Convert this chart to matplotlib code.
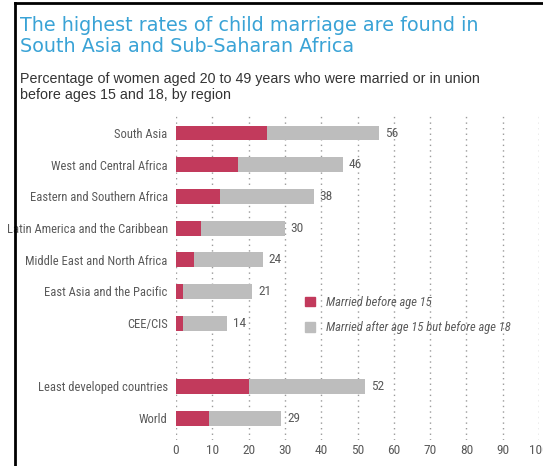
import matplotlib.pyplot as plt
from matplotlib.lines import Line2D
from matplotlib import font_manager

regions = ["South Asia", "West and Central Africa", "Eastern and Southern Africa",
           "Latin America and the Caribbean", "Middle East and North Africa",
           "East Asia and the Pacific", "CEE/CIS", "", "Least developed countries", "World"]
before_15 = [25, 17, 12, 7, 5, 2, 2, None, 20, 9]
before_18 = [56, 46, 38, 30, 24, 21, 14, None, 52, 29]
x_ticks = [0, 10, 20, 30, 40, 50, 60, 70, 80, 90, 100]

RED = "#c23a5c"
GREY = "#bdbdbd"
TEXT = "#5a5a5a"

# pick a condensed face if one is around, otherwise a small Liberation Sans
names = {f.name for f in font_manager.fontManager.ttflist}
narrow, lab_size = "Liberation Sans", 7.6
for cand in ["Liberation Sans Narrow", "Roboto Condensed", "Open Sans Condensed"]:
    if cand in names:
        narrow, lab_size = cand, 9
        break

fig = plt.figure(figsize=(5.43, 4.66), dpi=100)
ax = fig.add_axes([176 / 543, 26 / 466, 363 / 543, 325 / 466])

for i, (a, b) in enumerate(zip(before_15, before_18)):
    if a is None:
        continue
    ax.barh(i, a, height=0.47, color=RED, zorder=3)
    ax.barh(i, b - a, left=a, height=0.47, color=GREY, zorder=3)
    ax.text(b + 1.6, i, str(b), va="center", ha="left", fontsize=lab_size + 0.6,
            family=narrow, color=TEXT)

ax.set_xlim(0, 100)
ax.set_ylim(9.69, -0.57)
ax.set_yticks(range(len(regions)))
ax.set_yticklabels(regions, family=narrow, fontsize=lab_size, color=TEXT)
ax.set_xticks(x_ticks)
ax.set_xticklabels([str(t) for t in x_ticks], family=narrow, fontsize=lab_size + 0.6, color=TEXT)
ax.tick_params(axis="y", length=0, pad=6)
ax.tick_params(axis="x", length=0, pad=3)
for s in ax.spines.values():
    s.set_visible(False)
for t in x_ticks:
    ax.axvline(t, color="#9a9a9a", lw=1.0, ls=(0, (1, 3)), zorder=1)

handles = [plt.Rectangle((0, 0), 1, 1, color=RED),
           plt.Rectangle((0, 0), 1, 1, color=GREY)]
ax.legend(handles, ["Married before age 15", "Married after age 15 but before age 18"],
          loc="upper left", bbox_to_anchor=(0.33, 0.47), frameon=False,
          handlelength=0.8, handleheight=0.8, handletextpad=0.9, labelspacing=1.0,
          borderpad=0.2, prop={"family": narrow, "size": lab_size, "style": "italic"},
          labelcolor=TEXT)

fig.text(20 / 543, 1 - 16 / 466, "The highest rates of child marriage are found in\nSouth Asia and Sub-Saharan Africa",
         ha="left", va="top", fontsize=13.8, family="DejaVu Sans", color="#3aa3d6",
         linespacing=1.15)
fig.text(20 / 543, 1 - 72 / 466, "Percentage of women aged 20 to 49 years who were married or in union\nbefore ages 15 and 18, by region",
         ha="left", va="top", fontsize=10.3, family="Liberation Sans", color="#333333",
         linespacing=1.15)

# frame on the left and top edges
fig.add_artist(Line2D([15 / 543, 15 / 543], [0, 1 - 3 / 466], color="black", lw=2))
fig.add_artist(Line2D([15 / 543, 1], [1 - 3 / 466, 1 - 3 / 466], color="black", lw=2))

fig.savefig("out.png", dpi=100)
